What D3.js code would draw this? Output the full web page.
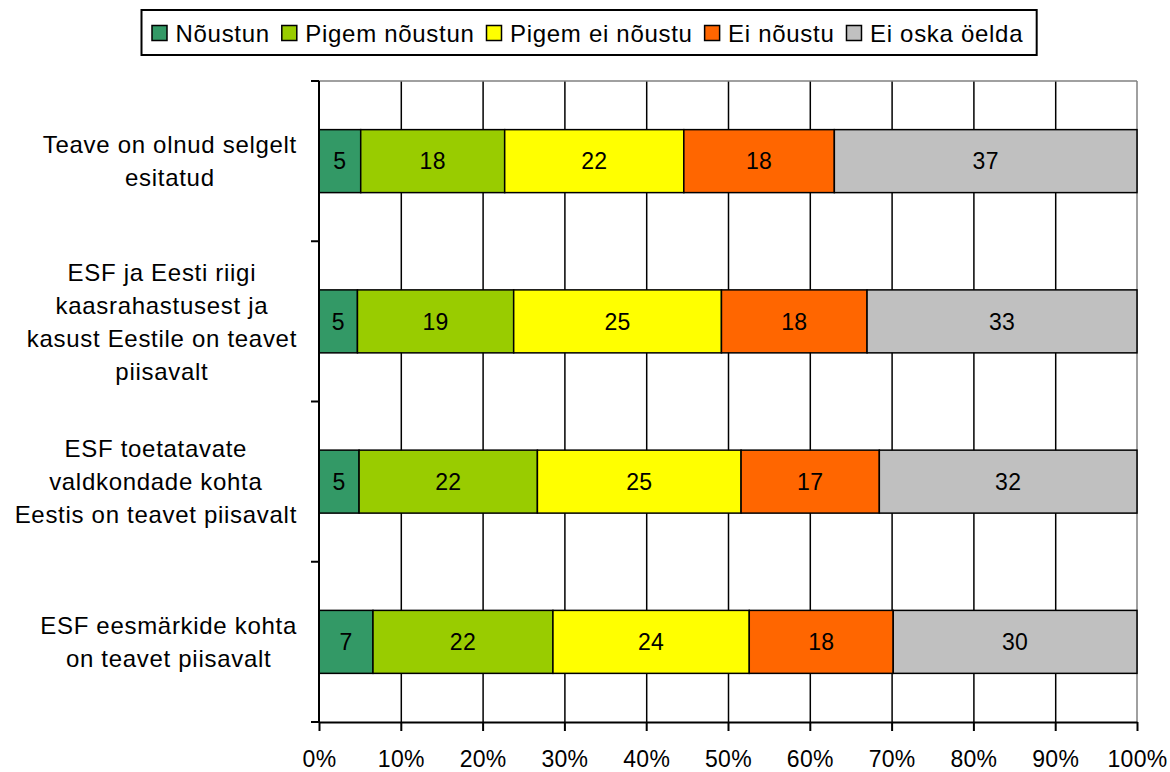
<!DOCTYPE html>
<html>
<head>
<meta charset="utf-8">
<script src="https://cdn.jsdelivr.net/npm/d3@7"></script>
<style>
  body { margin: 0; background: #fff; }
  svg text { font-family: "Liberation Sans", Arial, sans-serif; font-size: 24px; letter-spacing: 0.7px; fill: #000; }
  svg text.num { font-size: 23px; letter-spacing: 0.3px; }
</style>
</head>
<body>
<div id="chart"></div>
<script>
// categories (top to bottom), label lines as shown
var categories = [
    ["Teave on olnud selgelt", "esitatud"],
    ["ESF ja Eesti riigi", "kaasrahastusest ja", "kasust Eestile on teavet", "piisavalt"],
    ["ESF toetatavate", "valdkondade kohta", "Eestis on teavet piisavalt"],
    ["ESF eesmärkide kohta", "on teavet piisavalt"]
];
var seriesNames = ["Nõustun", "Pigem nõustun", "Pigem ei nõustu", "Ei nõustu", "Ei oska öelda"];
var seriesColors = ["#339966", "#99CC00", "#FFFF00", "#FF6600", "#C0C0C0"];

// percent shares per series, one value per category
var noustun = [5.1, 4.7, 4.9, 6.6];
var pigemNoustun = [17.6, 19.1, 21.8, 22.0];
var pigemEiNoustu = [21.9, 25.4, 24.9, 24.0];
var eiNoustu = [18.4, 17.8, 16.9, 17.6];
var eiOska = [37.0, 33.0, 31.5, 29.8];

var xTicks = [0, 10, 20, 30, 40, 50, 60, 70, 80, 90, 100];

var W = 1170, H = 772;
var margin = { top: 81, right: 33, bottom: 50, left: 319 };
var width = W - margin.left - margin.right;
var height = H - margin.top - margin.bottom;

var svg = d3.select("#chart").append("svg").attr("width", W).attr("height", H);
var g = svg.append("g").attr("transform", "translate(" + margin.left + "," + margin.top + ")");

var table = categories.map(function (c, i) {
    return { idx: i, v: [noustun[i], pigemNoustun[i], pigemEiNoustu[i], eiNoustu[i], eiOska[i]] };
});

var x = d3.scaleLinear().domain([0, 100]).range([0, width]);
var y = d3.scaleBand().domain(d3.range(categories.length)).range([0, height])
    .paddingInner(0.607).paddingOuter(0.3035);

// grid lines
g.append("g")
    .call(d3.axisBottom(x).tickValues(xTicks.slice(1, -1)).tickSize(height).tickFormat(""))
    .call(function (a) { a.select(".domain").remove(); })
    .selectAll("line").attr("stroke", "#000").attr("stroke-width", 1.5);

// top and right plot border
g.append("line").attr("x1", 0).attr("x2", width).attr("y1", 0).attr("y2", 0)
    .attr("stroke", "#808080").attr("stroke-width", 1.5);
g.append("line").attr("x1", width).attr("x2", width).attr("y1", 0).attr("y2", height)
    .attr("stroke", "#808080").attr("stroke-width", 1.5);

// stacked bars
var stack = d3.stack().keys(d3.range(seriesNames.length)).value(function (d, k) { return d.v[k]; });
var layers = stack(table);

var layer = g.selectAll(".layer").data(layers).enter().append("g")
    .attr("class", "layer")
    .attr("fill", function (d, i) { return seriesColors[i]; });

layer.selectAll("rect").data(function (d) { return d; }).enter().append("rect")
    .attr("x", function (d) { return x(d[0]); })
    .attr("y", function (d) { return y(d.data.idx); })
    .attr("width", function (d) { return x(d[1]) - x(d[0]); })
    .attr("height", y.bandwidth())
    .attr("stroke", "#000")
    .attr("stroke-width", 1.5);

layer.selectAll("text").data(function (d) { return d; }).enter().append("text")
    .attr("class", "num")
    .attr("x", function (d) { return (x(d[0]) + x(d[1])) / 2; })
    .attr("y", function (d) { return y(d.data.idx) + y.bandwidth() / 2; })
    .attr("dy", "0.36em")
    .attr("text-anchor", "middle")
    .text(function (d) { return Math.round(d[1] - d[0]); });

// x axis
var xAxis = g.append("g").attr("transform", "translate(0," + height + ")")
    .call(d3.axisBottom(x).tickValues(xTicks).tickSize(9).tickSizeOuter(0).tickPadding(20)
        .tickFormat(function (d) { return d + "%"; }));
xAxis.select(".domain").attr("stroke", "#000").attr("stroke-width", 2);
xAxis.selectAll("line").attr("stroke", "#000").attr("stroke-width", 2);
xAxis.selectAll("text").attr("class", "num").style("font-size", null).attr("fill", "#000");

// y axis line and ticks at band boundaries
g.append("line").attr("x1", 0).attr("x2", 0).attr("y1", 0).attr("y2", height)
    .attr("stroke", "#000").attr("stroke-width", 2);
var bounds = d3.range(categories.length + 1).map(function (i) { return i * y.step(); });
g.selectAll(".ytick").data(bounds).enter().append("line")
    .attr("x1", -8).attr("x2", 0)
    .attr("y1", function (d) { return d; }).attr("y2", function (d) { return d; })
    .attr("stroke", "#000").attr("stroke-width", 2);

// category labels: block right-aligned, lines centred inside block
var lineH = 33;
var labelRight = 297 - margin.left;
categories.forEach(function (lines, i) {
    var t = g.append("text").attr("text-anchor", "middle");
    var cy = y(i) + y.bandwidth() / 2;
    var spans = lines.map(function (l, j) {
        return t.append("tspan").attr("y", cy + (j - (lines.length - 1) / 2) * lineH).attr("dy", "0.36em").text(l);
    });
    var maxW = d3.max(spans, function (s) { return s.node().getComputedTextLength(); });
    spans.forEach(function (s) { s.attr("x", labelRight - maxW / 2); });
});

// legend
var leg = svg.append("g");
var lx = 152, ly = 33;
seriesNames.forEach(function (name, i) {
    leg.append("rect").attr("x", lx).attr("y", ly - 7.5).attr("width", 15).attr("height", 15)
        .attr("fill", seriesColors[i]).attr("stroke", "#000").attr("stroke-width", 1.5);
    var tx = leg.append("text").attr("x", lx + 23.5).attr("y", ly).attr("dy", "0.36em").text(name);
    lx = lx + 23.5 + tx.node().getComputedTextLength() + 12;
});
leg.insert("rect", ":first-child").attr("x", 141.5).attr("y", 10).attr("width", lx - 141.5 + 1.5).attr("height", 45)
    .attr("fill", "#fff").attr("stroke", "#000").attr("stroke-width", 2);
</script>
</body>
</html>
